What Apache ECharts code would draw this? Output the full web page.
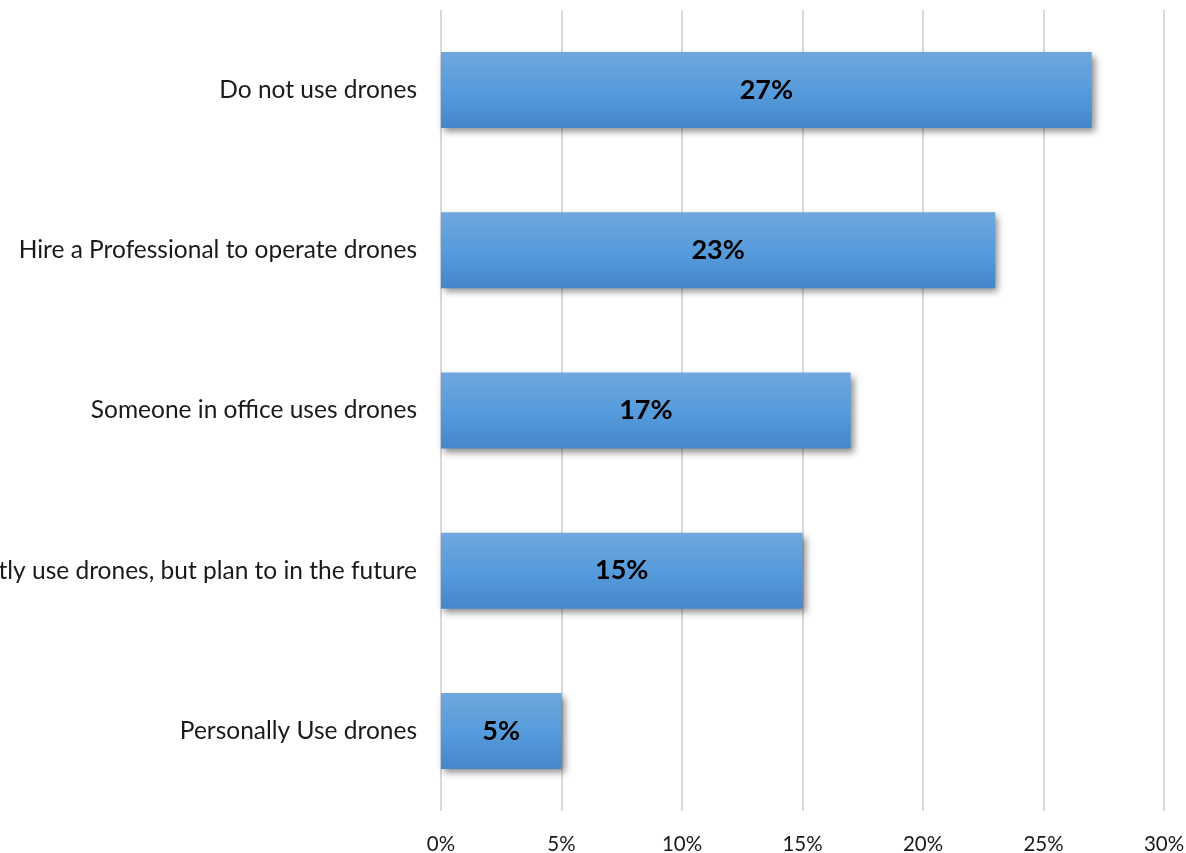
<!DOCTYPE html>
<html>
<head>
<meta charset="utf-8">
<script src="https://cdn.jsdelivr.net/npm/echarts@6/dist/echarts.min.js"></script>
<style>
html,body{margin:0;padding:0;background:#fff;}
#chart{width:1186px;height:853px;}
</style>
</head>
<body>
<div id="chart"></div>
<script>
// Drone usage survey responses (share of respondents, %)
const categories = [
  'Personally Use drones',
  'Do not currently use drones, but plan to in the future',
  'Someone in office uses drones',
  'Hire a Professional to operate drones',
  'Do not use drones'
];
const shares = [5, 15, 17, 23, 27];
const xTicks = [0, 5, 10, 15, 20, 25, 30];

const chart = echarts.init(document.getElementById('chart'));
chart.setOption({
  animation: false,
  grid: {
    left: 441, right: 22, top: 10, bottom: 42,
    containLabel: false,
    outerBoundsMode: 'none'
  },
  xAxis: {
    type: 'value',
    min: xTicks[0],
    max: xTicks[xTicks.length - 1],
    interval: xTicks[1] - xTicks[0],
    axisLine: { show: false },
    axisTick: { show: false },
    splitLine: { show: true, lineStyle: { color: '#d9d9d9', width: 2 } },
    axisLabel: {
      formatter: v => v + '%',
      color: '#1a1a1a',
      fontFamily: 'Lato',
      fontSize: 20.5,
      margin: 23
    }
  },
  yAxis: {
    type: 'category',
    data: categories,
    axisLine: { show: false },
    axisTick: { show: false },
    axisLabel: {
      color: '#1a1a1a',
      fontFamily: 'Lato',
      fontSize: 24.5,
      margin: 24
    }
  },
  series: [{
    type: 'bar',
    data: shares,
    barWidth: 76,
    itemStyle: {
      color: new echarts.graphic.LinearGradient(0, 0, 0, 1, [
        { offset: 0, color: '#70a7dd' },
        { offset: 0.5, color: '#569cdc' },
        { offset: 1, color: '#4587ca' }
      ]),
      shadowColor: 'rgba(0,0,0,0.45)',
      shadowBlur: 7,
      shadowOffsetX: 3,
      shadowOffsetY: 4
    },
    label: {
      show: true,
      position: 'inside',
      formatter: p => p.value + '%',
      color: '#000',
      fontFamily: 'Lato',
      fontWeight: 'bold',
      fontSize: 27
    }
  }]
});
</script>
</body>
</html>
